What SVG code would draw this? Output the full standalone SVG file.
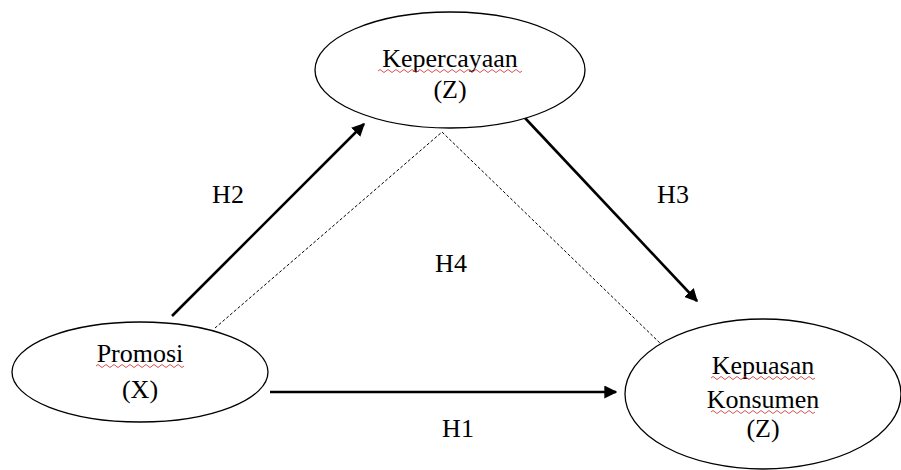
<svg xmlns="http://www.w3.org/2000/svg" width="901" height="470" viewBox="0 0 901 470">
<style>
.node ellipse{fill:#fff;stroke:#000;stroke-width:1.3}
text{font-family:"Liberation Serif","Times New Roman",serif;font-size:26px;fill:#000;text-anchor:middle}
.solid{stroke:#000;stroke-width:2.6;fill:none}
.dash{stroke:#000;stroke-width:1;stroke-dasharray:3,2;fill:none}
.wavy{stroke:#d04040;stroke-width:0.9;fill:none}
</style>
<defs>
<marker id="arr" viewBox="0 0 10 10" refX="9" refY="5" markerWidth="5" markerHeight="5" orient="auto" markerUnits="strokeWidth">
<path d="M0,0 L10,5 L0,10 z" fill="#000"/>
</marker>
</defs>
<rect width="901" height="470" fill="#fff"/>
<g id="connectors">
<path class="dash" d="M215,328 L442,132 L662,345"/>
<line class="solid" x1="270" y1="392" x2="616" y2="392" marker-end="url(#arr)"/>
<line class="solid" x1="172" y1="316" x2="364" y2="124" marker-end="url(#arr)"/>
<line class="solid" x1="525" y1="118" x2="697" y2="301" marker-end="url(#arr)"/>
<text x="228" y="203">H2</text>
<text x="673" y="203">H3</text>
<text x="451" y="272">H4</text>
<text x="458" y="437">H1</text>
</g>
<g id="kepercayaan" class="node">
<ellipse cx="450" cy="70" rx="135" ry="58"/>
<text x="450" y="67">Kepercayaan</text>
<path class="wavy" d="M378,71 q2,-3 4,0 t4,0 t4,0 t4,0 t4,0 t4,0 t4,0 t4,0 t4,0 t4,0 t4,0 t4,0 t4,0 t4,0 t4,0 t4,0 t4,0 t4,0 t4,0 t4,0 t4,0 t4,0 t4,0 t4,0 t4,0 t4,0 t4,0 t4,0 t4,0 t4,0 t4,0 t4,0 t4,0 t4,0 t4,0 t4,0"/>
<text x="450" y="98">(Z)</text>
</g>
<g id="promosi" class="node">
<ellipse cx="140" cy="372" rx="128" ry="50"/>
<text x="140" y="362">Promosi</text>
<path class="wavy" d="M96,366 q2,-3 4,0 t4,0 t4,0 t4,0 t4,0 t4,0 t4,0 t4,0 t4,0 t4,0 t4,0 t4,0 t4,0 t4,0 t4,0 t4,0 t4,0 t4,0 t4,0 t4,0 t4,0 t4,0"/>
<text x="140" y="398">(X)</text>
</g>
<g id="kepuasan" class="node">
<ellipse cx="763" cy="394" rx="138" ry="75"/>
<text x="763" y="374">Kepuasan</text>
<path class="wavy" d="M711,378 q2,-3 4,0 t4,0 t4,0 t4,0 t4,0 t4,0 t4,0 t4,0 t4,0 t4,0 t4,0 t4,0 t4,0 t4,0 t4,0 t4,0 t4,0 t4,0 t4,0 t4,0 t4,0 t4,0 t4,0 t4,0 t4,0 t4,0"/>
<text x="763" y="408">Konsumen</text>
<path class="wavy" d="M711,412 q2,-3 4,0 t4,0 t4,0 t4,0 t4,0 t4,0 t4,0 t4,0 t4,0 t4,0 t4,0 t4,0 t4,0 t4,0 t4,0 t4,0 t4,0 t4,0 t4,0 t4,0 t4,0 t4,0 t4,0 t4,0 t4,0 t4,0"/>
<text x="763" y="437">(Z)</text>
</g>
</svg>
